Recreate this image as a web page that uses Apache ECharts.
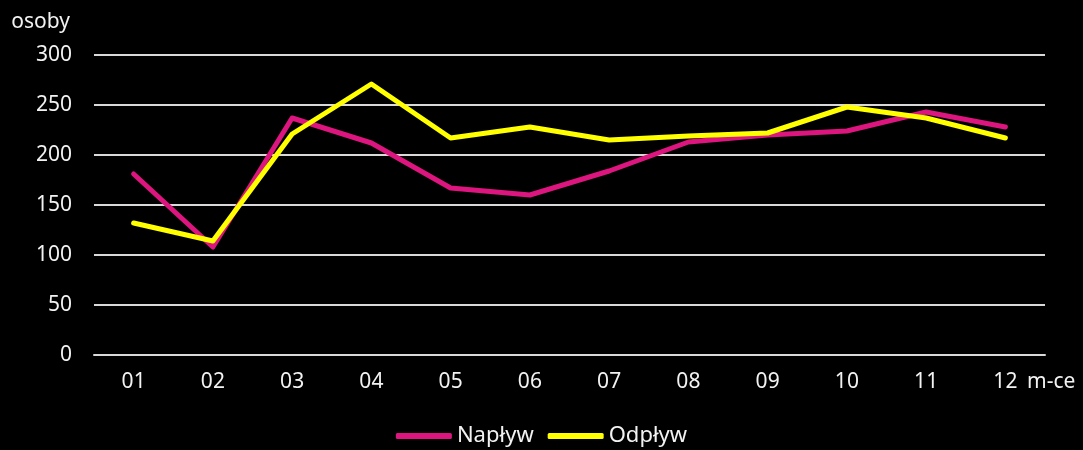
<!DOCTYPE html>
<html>
<head>
<meta charset="utf-8">
<script src="https://cdn.jsdelivr.net/npm/echarts@6/dist/echarts.min.js"></script>
<style>
  html, body { margin: 0; padding: 0; background: #000; }
  #chart { width: 1083px; height: 450px; }
</style>
</head>
<body>
<div id="chart"></div>
<script>
// miesiące
var months = ["01", "02", "03", "04", "05", "06", "07", "08", "09", "10", "11", "12"];
// napływ i odpływ (osoby)
var naplyw = [181, 108, 237, 212, 167, 160, 184, 213, 220, 224, 243, 228];
var odplyw = [132, 114, 221, 271, 217, 228, 215, 219, 222, 248, 237, 217];

var textColor = "#f2f2f2";
var fontFamily = "'Noto Sans', sans-serif";
var fontSize = 21;

var myChart = echarts.init(document.getElementById("chart"));
var option = {
  backgroundColor: "#000",
  animation: false,
  color: ["#DC157F", "#FFFF00"],
  textStyle: { fontFamily: fontFamily },
  legend: {
    data: ["Napływ", "Odpływ"],
    bottom: -2,
    left: "center",
    icon: "roundRect",
    itemWidth: 56,
    itemHeight: 6,
    itemGap: 14,
    textStyle: { color: textColor, fontSize: fontSize + 1, fontFamily: fontFamily }
  },
  grid: {
    left: 94,
    right: 38,
    top: 55,
    bottom: 95,
    containLabel: false
  },
  xAxis: {
    type: "category",
    data: months,
    boundaryGap: true,
    name: "m-ce",
    nameLocation: "end",
    nameGap: -18,
    nameTextStyle: {
      color: textColor,
      fontSize: fontSize,
      fontFamily: fontFamily,
      verticalAlign: "top",
      padding: [17, 0, 0, 0]
    },
    axisLine: { lineStyle: { color: "#d9d9d9", width: 2 } },
    axisTick: { show: false },
    axisLabel: { color: textColor, fontSize: fontSize, margin: 17, fontFamily: fontFamily }
  },
  yAxis: {
    type: "value",
    min: 0,
    max: 300,
    interval: 50,
    name: "osoby",
    nameLocation: "end",
    nameGap: 33,
    nameTextStyle: {
      color: textColor,
      fontSize: fontSize,
      fontFamily: fontFamily,
      align: "right",
      verticalAlign: "middle",
      padding: [0, 24, 0, 0]
    },
    axisLine: { show: false },
    axisTick: { show: false },
    axisLabel: { color: textColor, fontSize: fontSize, margin: 22, fontFamily: fontFamily },
    splitLine: { lineStyle: { color: "#d9d9d9", width: 2 } }
  },
  series: [
    {
      name: "Napływ",
      type: "line",
      data: naplyw,
      symbol: "none",
      lineStyle: { width: 5, cap: "round", join: "round" }
    },
    {
      name: "Odpływ",
      type: "line",
      data: odplyw,
      symbol: "none",
      lineStyle: { width: 5, cap: "round", join: "round" }
    }
  ]
};
myChart.setOption(option);
window.addEventListener("resize", function () {
  myChart.resize();
});
</script>
</body>
</html>
